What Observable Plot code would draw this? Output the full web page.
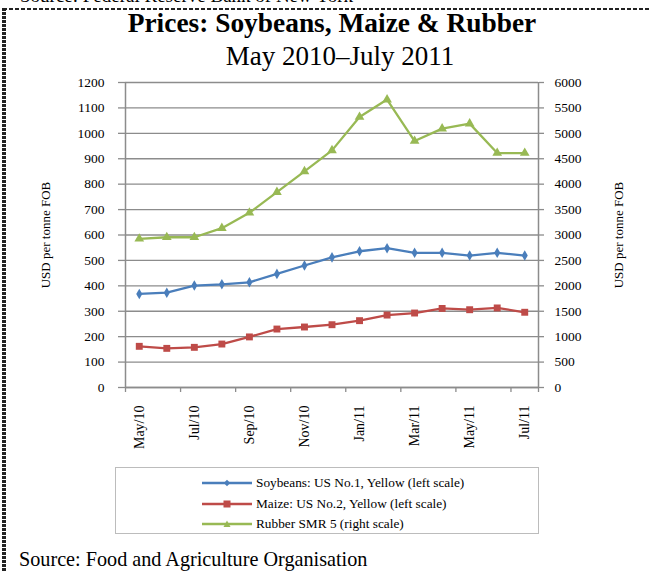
<!DOCTYPE html>
<html><head><meta charset="utf-8">
<script src="https://cdn.jsdelivr.net/npm/d3@7"></script>
<script src="https://cdn.jsdelivr.net/npm/@observablehq/plot@0.6"></script>
<style>
html,body{margin:0;padding:0;background:#fff;overflow:hidden}
#wrap{position:relative;width:651px;height:571px;overflow:hidden;font-family:"Liberation Serif","Times New Roman",serif;color:#000;background:#fff}
.abs{position:absolute;white-space:nowrap;line-height:1}
#topline{position:absolute;left:3px;top:8px;width:648px;height:2px;background:repeating-linear-gradient(90deg,#222 0 4px,transparent 4px 6px)}
#leftline{position:absolute;left:2px;top:8px;width:4px;height:563px;background:repeating-linear-gradient(180deg,#222 0 3px,#fff 3px 4px)}
#chart{position:absolute;left:0;top:70px}
#chart svg, #chart svg text{font-family:"Liberation Serif","Times New Roman",serif !important}
#legend{position:absolute;left:115px;top:467px;width:424px;height:67px;border:1px solid #bcbcbc;box-sizing:border-box;font-size:13.3px}
.lrow{position:absolute;left:86px;height:16px;display:flex;align-items:center}
.lrow svg{margin-right:4px}
</style></head><body><div id="wrap">
<div class="abs" id="prevsrc" style="left:20px;top:-14px;font-size:19px">Source: Federal Reserve Bank of New York</div>
<div id="topline"></div>
<div id="leftline"></div>
<div class="abs" id="title" style="left:332px;top:10px;transform:translateX(-50%);font-size:27.4px;font-weight:bold"></div>
<div class="abs" id="subtitle" style="left:340px;top:43px;transform:translateX(-50%);font-size:27px"></div>
<div id="chart"></div>
<div id="legend"></div>
<div class="abs" id="source" style="left:19px;top:549px;font-size:20.2px"></div>
</div>
<script>
const titleText = "Prices: Soybeans, Maize & Rubber";
const subtitleText = "May 2010\u2013July 2011";
const sourceText = "Source: Food and Agriculture Organisation";
const axisTitle = "USD per tonne FOB";
const months = ["May/10","Jun/10","Jul/10","Aug/10","Sep/10","Oct/10","Nov/10","Dec/10","Jan/11","Feb/11","Mar/11","Apr/11","May/11","Jun/11","Jul/11"];
const seriesNames = ["Soybeans: US No.1, Yellow (left scale)","Maize: US No.2, Yellow (left scale)","Rubber SMR 5 (right scale)"];
const soybeans = [368,373,401,406,414,447,480,512,536,548,530,530,519,530,519];
const maize = [162,154,158,171,199,230,238,247,263,285,293,311,306,313,296];
const rubber = [2925,2956,2956,3134,3437,3843,4251,4665,5321,5664,4848,5092,5191,4612,4612];
const leftTicks = [0,100,200,300,400,500,600,700,800,900,1000,1100,1200];
const rightTicks = [0,500,1000,1500,2000,2500,3000,3500,4000,4500,5000,5500,6000];
const colors = ["#4A7EBB","#BE4B48","#98B954"];
const symbols = ["diamond","square","triangle"];

document.getElementById("title").textContent = titleText;
document.getElementById("subtitle").textContent = subtitleText;
document.getElementById("source").textContent = sourceText;

const FF = "'Liberation Serif', 'Times New Roman', serif";
const leftMax = leftTicks[leftTicks.length-1];
const rightMax = rightTicks[rightTicks.length-1];
const ratio = rightMax / leftMax;
const n = months.length;
const values = [soybeans, maize, rubber.map(v => v / ratio)];
const rows = values.map((arr, s) => arr.map((y, i) => ({i, y, s: seriesNames[s], k: s}))).flat();
const boundaries = d3.range(-0.5, n, 2).concat([n - 0.5]);
const labelIdx = d3.range(0, n, 2);
const grid = "#8c8c8c";
const rSizes = [3.2, 3.9, 3.6];

const chart = Plot.plot({
  width: 651, height: 395,
  marginLeft: 125, marginRight: 113, marginTop: 12, marginBottom: 78,
  style: {fontFamily: FF, fontSize: "13.5px", background: "transparent", color: "#000", overflow: "visible"},
  x: {type: "linear", domain: [-0.5, n - 0.5]},
  y: {domain: [0, leftMax]},
  color: {domain: seriesNames, range: colors},
  marks: [
    Plot.gridY(leftTicks, {stroke: grid, strokeOpacity: 1, strokeWidth: 1.3}),
    Plot.ruleX([-0.5, n - 0.5], {stroke: grid, strokeWidth: 1.5}),
    Plot.ruleY([0], {stroke: grid, strokeWidth: 1.5}),
    Plot.axisY(leftTicks, {anchor: "left", tickSize: 7, tickPadding: 14, stroke: grid, strokeWidth: 1.3, fill: "#000", fontFamily: FF, label: null, tickFormat: d => String(d)}),
    Plot.axisY(leftTicks, {anchor: "right", tickSize: 5, tickPadding: 11, stroke: grid, strokeWidth: 1.3, fill: "#000", fontFamily: FF, label: null, tickFormat: d => String(d * ratio)}),
    Plot.axisX(boundaries, {anchor: "bottom", tickSize: 5, stroke: grid, strokeWidth: 1.3, tickFormat: () => "", label: null}),
    Plot.axisX(labelIdx, {anchor: "bottom", tickSize: 0, tickPadding: 18, tickRotate: -90, fill: "#000", fontSize: 14, fontFamily: FF, tickFormat: i => months[i], label: null}),
    Plot.text([axisTitle], {frameAnchor: "left", dx: -80, rotate: -90, textAnchor: "middle", fontSize: 13, fontFamily: FF, fill: "#000"}),
    Plot.text([axisTitle], {frameAnchor: "right", dx: 80, rotate: -90, textAnchor: "middle", fontSize: 13, fontFamily: FF, fill: "#000"}),
    Plot.line(rows, {x: "i", y: "y", z: "s", stroke: "s", strokeWidth: 2.3, curve: "linear"}),
    ...[0,1,2].map(k => Plot.dot(rows.filter(d => d.k === k), {x: "i", y: "y", fill: "s", symbol: () => symbols[k], r: rSizes[k], stroke: "none"}))
  ]
});
document.getElementById("chart").appendChild(chart);

// legend
const legend = document.getElementById("legend");
const sym = {
  diamond: '<path d="M25,1.8 L28.2,5 L25,8.2 L21.8,5 Z"/>',
  square: '<rect x="21.5" y="1.5" width="7" height="7"/>',
  triangle: '<path d="M25,1.5 L28.5,8 L21.5,8 Z"/>'
};
seriesNames.forEach((name, k) => {
  const row = document.createElement("div");
  row.className = "lrow";
  row.style.top = (7 + k * 20.7) + "px";
  row.innerHTML = `<svg width="50" height="10" viewBox="0 0 50 10"><line x1="0" y1="5" x2="50" y2="5" stroke="${colors[k]}" stroke-width="2.3"/><g fill="${colors[k]}">${sym[symbols[k]]}</g></svg><span>${name}</span>`;
  legend.appendChild(row);
});
</script>
</body></html>
